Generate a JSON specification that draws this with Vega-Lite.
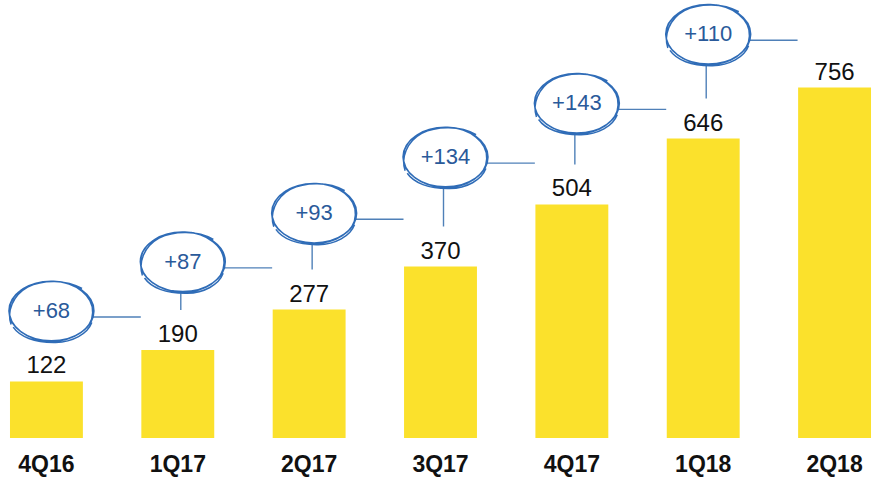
{
  "$schema": "https://vega.github.io/schema/vega-lite/v6.json",
  "width": 881,
  "height": 438,
  "padding": {"left": 0, "top": 0, "right": 0, "bottom": 40},
  "autosize": {"type": "none"},
  "background": "white",
  "config": {"view": {"stroke": null}},
  "data": {
    "values": [
      {"quarter": "4Q16", "value": 122, "next": "1Q17", "delta": "+68", "ann": 274},
      {"quarter": "1Q17", "value": 190, "next": "2Q17", "delta": "+87", "ann": 380},
      {"quarter": "2Q17", "value": 277, "next": "3Q17", "delta": "+93", "ann": 485},
      {"quarter": "3Q17", "value": 370, "next": "4Q17", "delta": "+134", "ann": 606},
      {"quarter": "4Q17", "value": 504, "next": "1Q18", "delta": "+143", "ann": 722},
      {"quarter": "1Q18", "value": 646, "next": "2Q18", "delta": "+110", "ann": 871},
      {"quarter": "2Q18", "value": 756, "next": null, "delta": null, "ann": null}
    ]
  },
  "encoding": {
    "x": {
      "field": "quarter",
      "type": "nominal",
      "sort": null,
      "scale": {"domain": ["4Q16", "1Q17", "2Q17", "3Q17", "4Q17", "1Q18", "2Q18"], "paddingInner": 0.445, "paddingOuter": 0.076},
      "axis": {
        "title": null,
        "labelAngle": 0,
        "domain": false,
        "ticks": false,
        "labelFont": "Liberation Sans",
        "labelFontWeight": "bold",
        "labelFontSize": 23,
        "labelColor": "#111111",
        "labelPadding": 15
      }
    }
  },
  "layer": [
    {
      "mark": {"type": "bar", "color": "#FBE12C"},
      "encoding": {
        "y": {"field": "value", "type": "quantitative", "scale": {"domain": [0, 945], "nice": false}, "axis": null}
      }
    },
    {
      "mark": {"type": "text", "font": "Liberation Sans", "fontSize": 24, "color": "#111111", "baseline": "alphabetic", "dy": -8},
      "encoding": {
        "y": {"field": "value", "type": "quantitative"},
        "text": {"field": "value", "type": "quantitative"}
      }
    },
    {
      "transform": [{"filter": "datum.delta != null"}],
      "mark": {
        "type": "rule",
        "color": "#4F80B8",
        "strokeWidth": 1.4,
        "xOffset": 45,
        "x2Offset": -37,
        "yOffset": 6
      },
      "encoding": {
        "x2": {"field": "next"},
        "y": {"field": "ann", "type": "quantitative"}
      }
    },
    {
      "transform": [{"filter": "datum.delta != null"}],
      "mark": {
        "type": "rule",
        "color": "#4F80B8",
        "strokeWidth": 1.4,
        "xOffset": 3,
        "yOffset": 28,
        "y2Offset": -40
      },
      "encoding": {
        "y": {"field": "ann", "type": "quantitative"},
        "y2": {"field": "value"}
      }
    },
    {
      "transform": [{"filter": "datum.delta != null"}],
      "mark": {
        "type": "point",
        "filled": false,
        "fill": "white",
        "fillOpacity": 1,
        "stroke": "#2F6CB7",
        "strokeWidth": 1.5,
        "opacity": 1,
        "xOffset": 5,
        "shape": "M1,0C1,0.386,0.552,0.7,0,0.7C-0.552,0.7,-1,0.386,-1,0C-1,-0.386,-0.552,-0.7,0,-0.7C0.552,-0.7,1,-0.386,1,0ZM0.97,0.04C0.96,0.43,0.5,0.73,-0.04,0.71C-0.58,0.69,-1.02,0.36,-0.99,-0.04C-0.96,-0.43,-0.5,-0.72,0.05,-0.7C0.58,-0.68,0.99,-0.35,0.97,0.04ZM-0.95,0.32C-1.05,0.02,-0.92,-0.36,-0.56,-0.56C-0.2,-0.74,0.35,-0.74,0.72,-0.53M-0.9,0.38C-0.75,0.6,-0.4,0.75,0.1,0.74C0.5,0.73,0.85,0.54,0.95,0.27"
      },
      "encoding": {
        "y": {"field": "ann", "type": "quantitative"},
        "size": {"value": 7225}
      }
    },
    {
      "transform": [{"filter": "datum.delta != null"}],
      "mark": {"type": "text", "font": "Liberation Sans", "fontSize": 22, "color": "#2A5A9A", "baseline": "middle", "align": "center", "xOffset": 5},
      "encoding": {
        "y": {"field": "ann", "type": "quantitative"},
        "text": {"field": "delta", "type": "nominal"}
      }
    }
  ]
}
